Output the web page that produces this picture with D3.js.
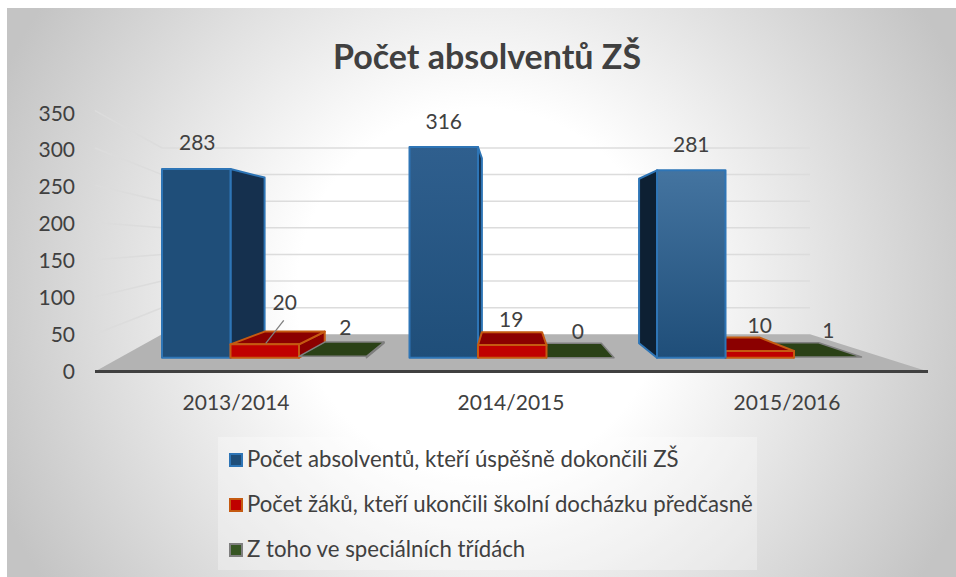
<!DOCTYPE html>
<html><head><meta charset="utf-8">
<script src="https://cdn.jsdelivr.net/npm/d3@7"></script>
<style>html,body{margin:0;padding:0;background:#fff}svg{display:block}text{font-family:Lato,"Noto Sans",sans-serif}</style>
</head><body>
<svg id="c" width="956" height="577"></svg>
<script>
const title = "Počet absolventů ZŠ";
const categories = ["2013/2014","2014/2015","2015/2016"];
const seriesNames = ["Počet absolventů, kteří úspěšně dokončili ZŠ","Počet žáků, kteří ukončili školní docházku předčasně","Z toho ve speciálních třídách"];
const absolventi = [283,316,281];
const predcasne = [20,19,10];
const specialni = [2,0,1];
const seriesValues = [absolventi,predcasne,specialni];
const ticks = [0,50,100,150,200,250,300,350];

const svg=d3.select("#c");
const defs=svg.append("defs");
const bg=defs.append("radialGradient").attr("id","bg").attr("gradientUnits","userSpaceOnUse").attr("cx",481).attr("cy",292).attr("r",525);
[[0.35,"#ffffff"],[1,"#c4c4c4"]].forEach(s=>bg.append("stop").attr("offset",s[0]).attr("stop-color",s[1]));
const topCols=["#1f4e79","#2f5f8e","#4474a0"];
topCols.forEach((c,i)=>{const g=defs.append("linearGradient").attr("id","bar"+i).attr("x1",0).attr("x2",0).attr("y1",0).attr("y2",1);
 g.append("stop").attr("offset",0).attr("stop-color",c);g.append("stop").attr("offset",1).attr("stop-color","#1f4e79");});

// frame
svg.append("rect").attr("x",7).attr("y",8).attr("width",949).attr("height",569).attr("fill","url(#bg)");

// scales: front axis plane, back wall, and the plane in which the bar fronts stand
const yFront=d3.scaleLinear().domain([0,350]).range([371.5,110.7]);
const yLabel=d3.scaleLinear().domain([0,350]).range([371.7,113]);
const yBack=d3.scaleLinear().domain([0,350]).range([334.3,148]);
const yBar=d3.scaleLinear().domain([0,350]).range([357.7,124.3]);
const xCat=d3.scaleBand().domain(categories).range([127,869.5]);
const barW=68.5;
const x0=c=>xCat(c)+35;
const VP={x:510,y:239.5},K=0.878;
const back=p=>[VP.x+K*(p[0]-VP.x),VP.y+K*(p[1]-VP.y)];

// floor
const wallL=162,wallR=810,frontL=95,frontR=928;
svg.append("path").attr("d",d3.line()([[frontL,yFront(0)],[wallL,yBack(0)],[wallR,yBack(0)],[frontR,yFront(0)]])+"Z").attr("fill","#b3b3b3");

// gridlines
const gridC="#dcdcdc";
ticks.filter(t=>t>0).forEach(t=>{
  svg.append("line").attr("x1",wallL).attr("x2",wallR).attr("y1",yBack(t)).attr("y2",yBack(t)).attr("stroke",gridC).attr("stroke-width",1.5);
  svg.append("line").attr("x1",frontL).attr("x2",wallL).attr("y1",yFront(t)).attr("y2",yBack(t)).attr("stroke",gridC).attr("stroke-width",1.5);
});

// axis
svg.append("line").attr("x1",frontL).attr("x2",frontR).attr("y1",yFront(0)).attr("y2",yFront(0)).attr("stroke","#404040").attr("stroke-width",3);
svg.append("g").selectAll("text").data(ticks).join("text")
 .attr("x",75).attr("y",d=>yLabel(d)+7.5).attr("text-anchor","end").attr("font-size",21).attr("fill","#404040").text(d=>d);
svg.append("g").selectAll("text").data(categories).join("text")
 .attr("x",(d,i)=>[236,511,787][i]).attr("y",410).attr("text-anchor","middle").attr("font-size",21).attr("fill","#404040").text(d=>d);

// bars as cuboids
const styles=[
 {stroke:"#2e75b6",side:["#15304e","#15304e","#0d2033"],top:"#1f4e79"},
 {front:"#c00000",stroke:"#c55a11",side:["#8b0000","#8b0000","#8b0000"],top:"#8b0000"},
 {front:"#2a4116",stroke:"#7f7f7f",side:["#2a4116","#2a4116","#2a4116"],top:"#2a4116"}
];
function cuboid(g,xl,w,v,st,ci,si){
  const xr=xl+w,yb=yBar(0),yt=yBar(v);
  const ftl=[xl,yt],ftr=[xr,yt],fbl=[xl,yb],fbr=[xr,yb];
  const p=a=>d3.line()(a)+"Z";
  const sw=si===2?1.5:2;
  const draw=(a,f)=>g.append("path").attr("d",p(a)).attr("fill",f).attr("stroke",st.stroke).attr("stroke-width",sw).attr("stroke-linejoin","round");
  if(xr<VP.x) draw([ftr,back(ftr),back(fbr),fbr],st.side[ci]);
  if(xl>VP.x) draw([ftl,back(ftl),back(fbl),fbl],st.side[ci]);
  if(yt>VP.y) draw([ftl,ftr,back(ftr),back(ftl)],st.top);
  if(si<2) draw([ftl,ftr,fbr,fbl],si===0?`url(#bar${ci})`:st.front);
}
const gBars=svg.append("g");
categories.forEach((c,ci)=>{
  const items=seriesValues.map((vals,si)=>({si,v:vals[ci],xl:x0(c)+si*barW}));
  items.sort((a,b)=>Math.abs(b.xl+barW/2-VP.x)-Math.abs(a.xl+barW/2-VP.x));
  items.forEach(it=>cuboid(gBars,it.xl,barW-(it.si===2?1:0),it.v,styles[it.si],ci,it.si));
});

// data labels: nudges for those the picture moves off their bars
const labelNudge={"0-0":[1,0],"0-1":[0,1],"1-0":[20,-16],"1-1":[-1,0],"2-0":[12,-3],"2-1":[-3,0],"2-2":[0,-1]};
const gL=svg.append("g");
seriesValues.forEach((vals,si)=>vals.forEach((v,ci)=>{
  const c=categories[ci];
  const cx=x0(c)+si*barW+barW/2, ty=yBar(v);
  const n=labelNudge[si+"-"+ci]||[0,0];
  if(si===1&&ci===0) gL.append("line").attr("x1",cx+19).attr("y1",ty-24).attr("x2",cx+1).attr("y2",ty-1).attr("stroke","#7f7f7f").attr("stroke-width",1.3);
  gL.append("text").attr("x",cx+n[0]).attr("y",ty-26+7.5+n[1]).attr("text-anchor","middle").attr("font-size",21).attr("fill","#404040").text(v);
}));

// title
svg.append("text").attr("x",487).attr("y",69).attr("text-anchor","middle").attr("font-size",34).attr("font-weight",700).attr("fill","#404040").text(title);

// legend
svg.append("rect").attr("x",218).attr("y",437).attr("width",539).attr("height",133).attr("fill","#ffffff").attr("opacity",0.3);
const legF=["#1f4e79","#c00000","#375623"],legS=["#2e75b6","#c55a11","#7f7f7f"];
const legY=d3.scalePoint().domain(seriesNames).range([460,550]);
seriesNames.forEach((n,i)=>{
  svg.append("rect").attr("x",230).attr("y",legY(n)-6).attr("width",12).attr("height",12).attr("fill",legF[i]).attr("stroke",legS[i]).attr("stroke-width",2);
  svg.append("text").attr("x",247).attr("y",legY(n)+7).attr("font-size",22.2).attr("fill","#404040").text(n);
});
</script>
</body></html>
